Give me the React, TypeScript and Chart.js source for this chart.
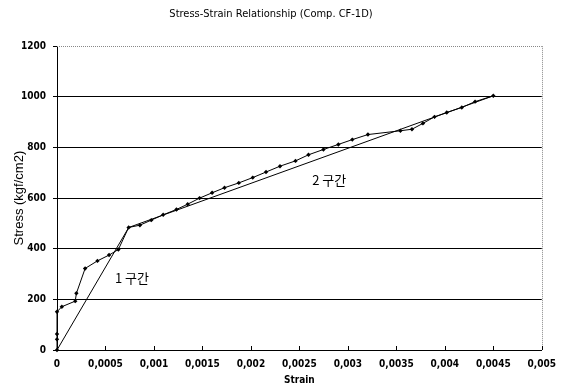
import React, { useEffect, useRef } from "react";
import { Chart, registerables } from "chart.js";

Chart.register(...registerables);

const measuredStrain = [0, 0, 0, 0, 0.00005, 0.000188, 0.0002, 0.00029, 0.000417, 0.000537, 0.000633, 0.000739, 0.000855, 0.000972, 0.001095, 0.001232, 0.001348, 0.001471, 0.0016, 0.001728, 0.001875, 0.002019, 0.002156, 0.0023, 0.00246, 0.002594, 0.002748, 0.002902, 0.003046, 0.003207, 0.003542, 0.003661, 0.003774, 0.003894, 0.00402, 0.004175, 0.004312, 0.0045];
const measuredStress = [0, 42, 63, 151, 171, 193, 224, 322, 352, 375, 397, 484, 493, 513, 534, 555, 576, 600, 621, 641, 660, 681, 703, 726, 747, 771, 792, 812, 831, 851, 866, 872, 895, 921, 938, 958, 981, 1004];

const fitStrain = [0, 0.00074, 0.0045];
const fitStress = [0, 484, 1004];

const zoneLabels = ["1 구간", "2 구간"];
const zoneStrain = [0.000773, 0.002807];
const zoneStress = [284, 671];

const TITLE = "Stress-Strain Relationship (Comp. CF-1D)";
const X_TITLE = "Strain";
const Y_TITLE = "Stress (kgf/cm2)";

const NARROW = "'Liberation Sans Narrow', 'Arial Narrow', 'DejaVu Sans Condensed', sans-serif";
const SANS = "'Liberation Sans', Arial, sans-serif";

const decor = {
  id: "decor",
  afterDraw(chart: any) {
    const { ctx, chartArea: a, scales } = chart;
    ctx.save();
    ctx.strokeStyle = "#888";
    ctx.lineWidth = 1;
    ctx.setLineDash([1, 1]);
    ctx.beginPath();
    ctx.moveTo(a.left, Math.round(a.top) + 0.5);
    ctx.lineTo(a.right, Math.round(a.top) + 0.5);
    ctx.moveTo(Math.round(a.right) + 0.5, a.top);
    ctx.lineTo(Math.round(a.right) + 0.5, a.bottom);
    ctx.stroke();
    ctx.setLineDash([]);
    ctx.strokeStyle = "#000";
    const xs = scales.x;
    ctx.beginPath();
    xs.ticks.forEach((t: any) => {
      const px = Math.round(xs.getPixelForValue(t.value)) + 0.5;
      ctx.moveTo(px, a.bottom);
      ctx.lineTo(px, a.bottom - 4);
    });
    ctx.stroke();
    ctx.fillStyle = "#000";
    ctx.font = "13px 'Noto Sans CJK KR', sans-serif";
    ctx.textAlign = "center";
    ctx.textBaseline = "middle";
    zoneLabels.forEach((s, i) => {
      ctx.fillText(s, xs.getPixelForValue(zoneStrain[i]), scales.y.getPixelForValue(zoneStress[i]));
    });
    ctx.restore();
  },
};

export default function App() {
  const ref = useRef<HTMLCanvasElement | null>(null);
  useEffect(() => {
    if (!ref.current) return;
    const chart = new Chart(ref.current, {
      type: "scatter",
      data: {
        datasets: [
          {
            data: measuredStrain.map((x, i) => ({ x, y: measuredStress[i] })),
            showLine: true,
            borderColor: "#000",
            backgroundColor: "#000",
            borderWidth: 1,
            pointStyle: "rectRot",
            pointRadius: 2.2,
            pointBorderWidth: 0,
            clip: false,
          },
          {
            data: fitStrain.map((x, i) => ({ x, y: fitStress[i] })),
            showLine: true,
            borderColor: "#000",
            borderWidth: 1,
            pointRadius: 0,
          },
        ],
      },
      options: {
        responsive: false,
        animation: false,
        layout: { padding: { left: 0, right: 22, top: 0, bottom: 0 } },
        plugins: {
          legend: { display: false },
          tooltip: { enabled: false },
          title: {
            display: true,
            text: TITLE,
            color: "#000",
            font: { family: NARROW, size: 11, weight: "normal" },
            padding: { top: 8, bottom: 25 },
          },
        },
        scales: {
          x: {
            type: "linear",
            min: 0,
            max: 0.005,
            ticks: {
              stepSize: 0.0005,
              color: "#000",
              padding: 8,
              font: { family: NARROW, size: 10, weight: "bold" },
              maxRotation: 0,
              callback: (v: any) => {
                const n = Number(Number(v).toFixed(4));
                return n === 0 ? "0" : String(n).replace(".", ",");
              },
            },
            grid: { display: true, drawOnChartArea: false, drawTicks: false },
            border: { display: true, color: "#000", width: 1 },
            title: {
              display: true,
              text: X_TITLE,
              color: "#000",
              font: { family: NARROW, size: 10, weight: "bold" },
              padding: { top: 0, bottom: 4 },
            },
            afterFit: (s: any) => {
              s.height = 40;
            },
          },
          y: {
            type: "linear",
            min: 0,
            max: 1200,
            ticks: {
              stepSize: 200,
              color: "#000",
              padding: 7,
              font: { family: NARROW, size: 10, weight: "bold" },
              callback: (v: any) => String(Math.round(Number(v))),
            },
            grid: {
              color: (c: any) => (c.tick && c.tick.value === 1200 ? "rgba(0,0,0,0)" : "#000"),
              lineWidth: 1,
              tickLength: 4,
              tickColor: "#000",
            },
            border: { display: true, color: "#000", width: 1 },
            title: {
              display: true,
              text: Y_TITLE,
              color: "#000",
              font: { family: SANS, size: 13, weight: "normal" },
              padding: { top: 12, bottom: 0 },
            },
            afterFit: (s: any) => {
              s.width = 57;
            },
          },
        },
      },
      plugins: [decor],
    });
    return () => chart.destroy();
  }, []);
  return (
    <div style={{ position: "absolute", left: 0, top: 0, width: 564, height: 390, background: "#fff" }}>
      <canvas ref={ref} width={564} height={390} />
    </div>
  );
}
